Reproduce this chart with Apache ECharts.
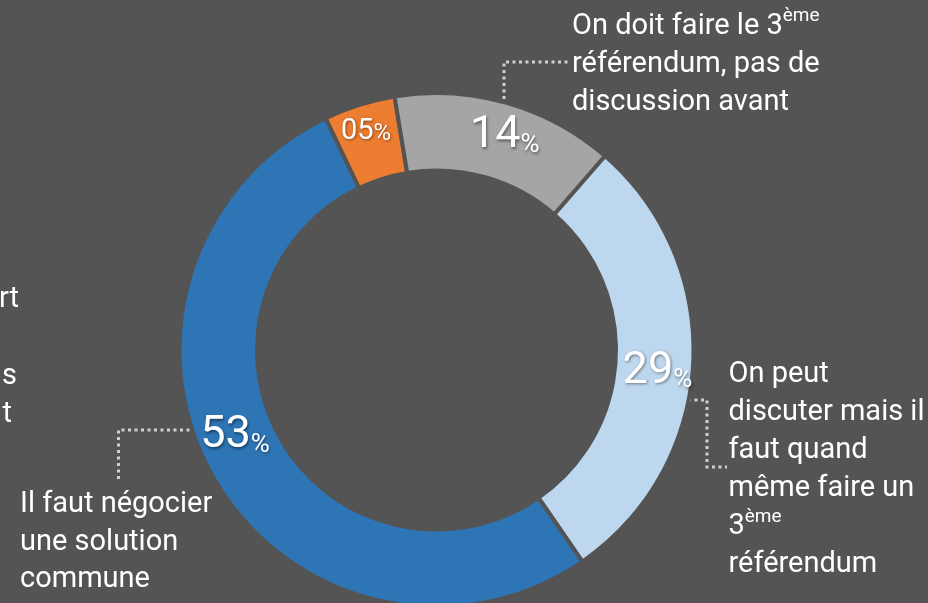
<!DOCTYPE html>
<html>
<head>
<meta charset="utf-8">
<script src="https://cdn.jsdelivr.net/npm/echarts@6/dist/echarts.min.js"></script>
<style>
html,body{margin:0;padding:0;background:#545454;overflow:hidden;}
#chart{width:928px;height:603px;}
</style>
</head>
<body>
<div id="chart"></div>
<script>
// ---- data ----
const categories = [
  '(libellé hors cadre)',
  'On doit faire le 3ème\nréférendum, pas de\ndiscussion avant',
  'On peut\ndiscuter mais il\nfaut quand\nmême faire un\n3ème\nréférendum',
  'Il faut négocier\nune solution\ncommune'
];
const values = [4.5, 14, 29, 52.5];
const colors = ['#ED7D31', '#A5A5A5', '#BDD7EE', '#2E75B6'];
// visible ends of a label that runs off the left edge of the picture
const clippedLabelLines = ['rt', '', 's', 't'];

// ---- styles ----
const BG = '#545454';
const FONT = 'Roboto';
const shadow = {textShadowColor: 'rgba(0,0,0,0.45)', textShadowBlur: 3, textShadowOffsetX: 1, textShadowOffsetY: 1.5};
function tok(fs) {
  return Object.assign({fontSize: fs, fontFamily: FONT, color: '#ffffff', lineHeight: Math.round(fs * 0.684 * 10) / 10, verticalAlign: 'bottom'}, shadow);
}
const labelNudge = [[-4, -3], [8, 6], [0, 16], [-10, -18]];

function toRich(text, supName) {
  return text.replace(/3ème/g, '3{' + supName + '|ème}');
}
const txtBase = {fill: '#ffffff', fontSize: 29, fontFamily: FONT, align: 'left', verticalAlign: 'top'};
const supHigh = {fill: '#ffffff', color: '#ffffff', fontSize: 19, fontFamily: FONT, lineHeight: 12, verticalAlign: 'top'};
const supLow = {fill: '#ffffff', color: '#ffffff', fontSize: 19, fontFamily: FONT, lineHeight: 32, verticalAlign: 'top'};

const dotted = {stroke: '#D0D0D0', lineWidth: 3, lineDash: [3, 3.5], fill: null};

const chart = echarts.init(document.getElementById('chart'), null, {renderer: 'canvas'});
chart.setOption({
  backgroundColor: BG,
  animation: false,
  series: [{
    type: 'pie',
    center: [436.5, 350],
    radius: [179.5, 257],
    startAngle: 115.6,
    clockwise: true,
    avoidLabelOverlap: false,
    silent: true,
    itemStyle: {borderColor: BG, borderWidth: 4},
    data: values.map((v, i) => ({value: v, name: categories[i], itemStyle: {color: colors[i]}})),
    label: {
      show: true,
      position: 'inside',
      formatter: p => {
        const t = String(Math.round(p.value)).padStart(2, '0');
        return p.value < 10 ? '{s|' + t + '}{sp|%}' : '{b|' + t + '}{bp|%}';
      },
      rich: {b: tok(45), bp: tok(26), s: tok(29), sp: tok(24)}
    },
    labelLine: {show: false},
    labelLayout: p => ({dx: labelNudge[p.dataIndex][0], dy: labelNudge[p.dataIndex][1]})
  }],
  graphic: [
    // leader lines
    {type: 'polyline', shape: {points: [[504, 99], [504, 62], [571, 62]]}, style: dotted},
    {type: 'polyline', shape: {points: [[688, 400], [707, 400], [707, 467], [727, 467]]}, style: dotted},
    {type: 'polyline', shape: {points: [[196, 430], [118.5, 430], [118.5, 481]]}, style: dotted},
    // category labels
    {type: 'text', x: 572, y: 7.2, style: Object.assign({}, txtBase, {text: toRich(categories[1], 'sup'), lineHeight: 38.3, rich: {sup: supHigh}})},
    {type: 'text', x: 728.5, y: 355.8, style: Object.assign({}, txtBase, {text: toRich(categories[2], 'sup'), lineHeight: 38, rich: {sup: supLow}})},
    {type: 'text', x: 20, y: 486, style: Object.assign({}, txtBase, {text: categories[3], lineHeight: 37.5})},
    // clipped label fragments on the left edge
    {type: 'text', x: -1, y: 280.9, style: Object.assign({}, txtBase, {text: clippedLabelLines[0], lineHeight: 38.3})},
    {type: 'text', x: 2, y: 357.5, style: Object.assign({}, txtBase, {text: clippedLabelLines[2], lineHeight: 38.3})},
    {type: 'text', x: 2.5, y: 395.8, style: Object.assign({}, txtBase, {text: clippedLabelLines[3], lineHeight: 38.3})}
  ]
});
</script>
</body>
</html>
